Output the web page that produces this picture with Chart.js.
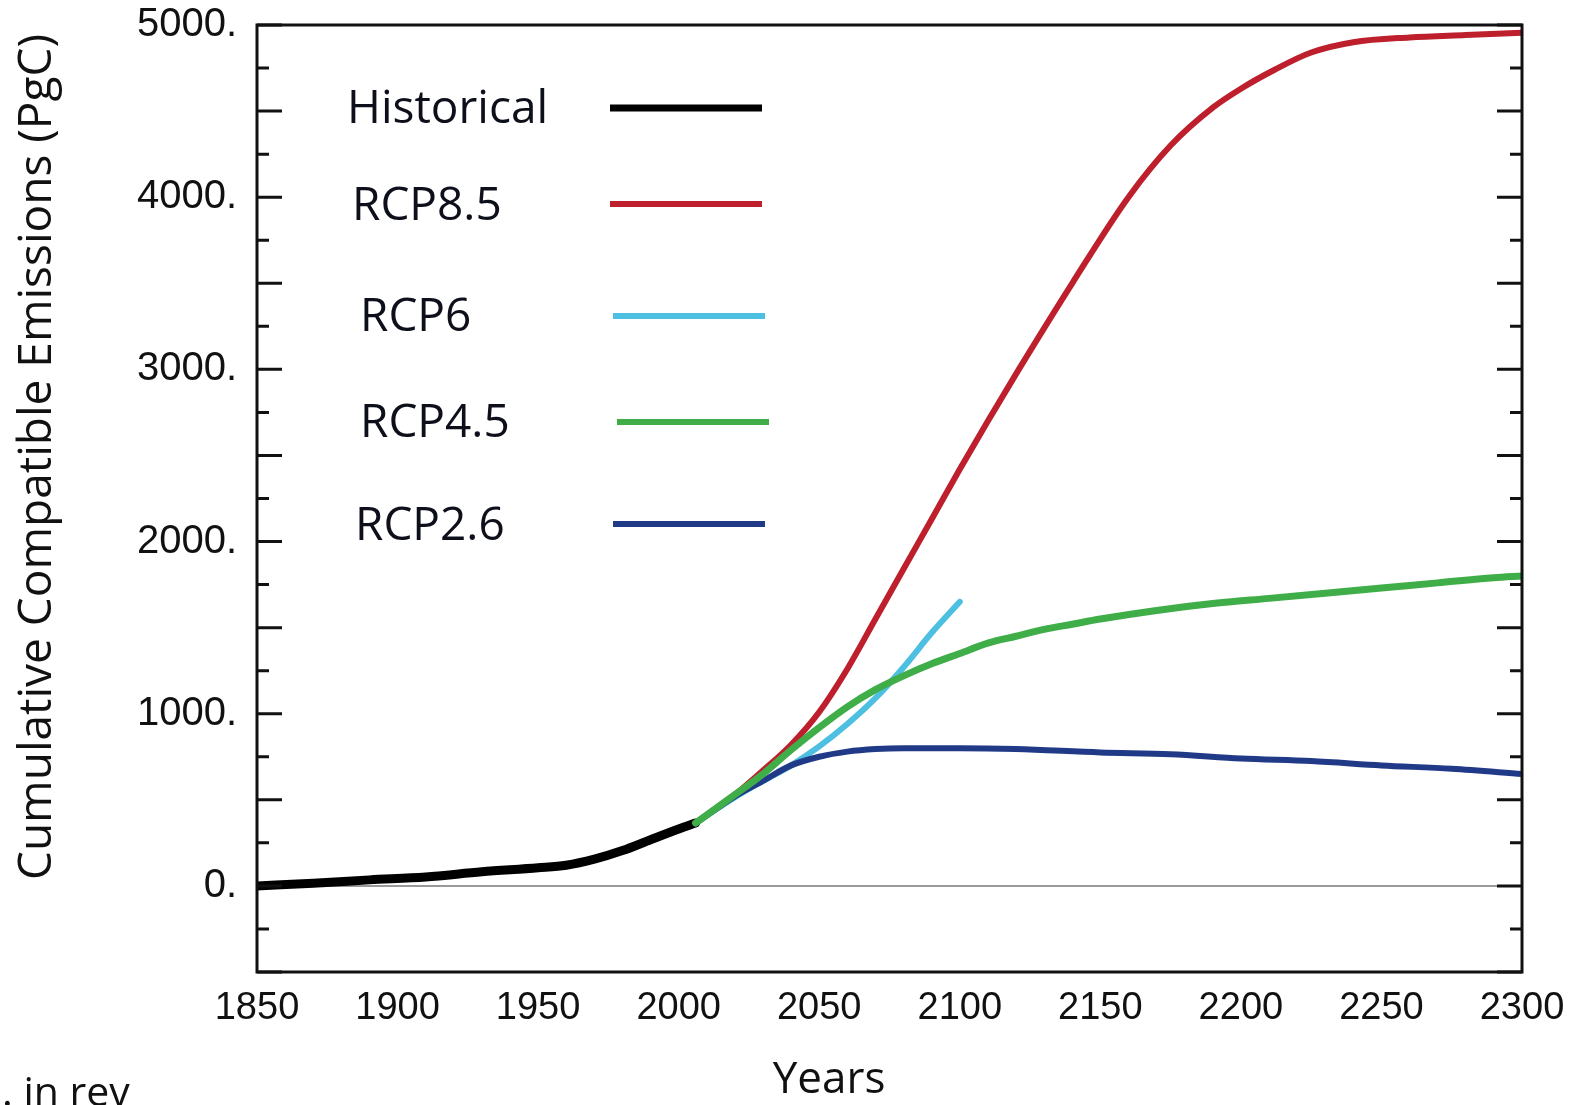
<!DOCTYPE html>
<html>
<head>
<meta charset="utf-8">
<script src="https://cdn.jsdelivr.net/npm/chart.js@4"></script>
<style>
  html, body { margin: 0; padding: 0; background: #fff; }
  #wrap { position: relative; width: 1582px; height: 1105px; overflow: hidden; }
  #note { position: absolute; left: 2px; top: 1062px; font: 41px "Open Sans", sans-serif; color: #111; }
</style>
</head>
<body>
<div id="wrap">
  <canvas id="lineChart" width="1582" height="1105"></canvas>
  <div id="note">. in rev</div>
</div>
<script>
// cumulative emissions (PgC)
const histYears  = [1850, 1870, 1890, 1910, 1930, 1950, 1960, 1970, 1980, 1990, 2000, 2006];
const histValues = [0, 15, 35, 52, 82, 105, 120, 155, 205, 268, 330, 365];

const rcp85Years  = [2006, 2020, 2030, 2040, 2050, 2060, 2070, 2080, 2090, 2100, 2110, 2121, 2140, 2160, 2175, 2190, 2200, 2212, 2225, 2240, 2260, 2280, 2300];
const rcp85Values = [365, 530, 670, 820, 1010, 1260, 1550, 1840, 2130, 2420, 2700, 3000, 3500, 4000, 4300, 4520, 4630, 4740, 4840, 4900, 4928, 4942, 4955];

const rcp6Years  = [2006, 2020, 2030, 2040, 2050, 2060, 2070, 2080, 2090, 2100];
const rcp6Values = [365, 515, 610, 700, 810, 940, 1090, 1270, 1470, 1650];

const rcp45Years  = [2006, 2020, 2030, 2040, 2050, 2060, 2070, 2080, 2090, 2100, 2110, 2120, 2130, 2140, 2150, 2170, 2190, 2210, 2230, 2250, 2270, 2290, 2300];
const rcp45Values = [365, 530, 650, 790, 920, 1040, 1140, 1220, 1290, 1350, 1410, 1450, 1490, 1520, 1550, 1600, 1640, 1670, 1700, 1730, 1760, 1790, 1800];

const rcp26Years  = [2006, 2020, 2030, 2040, 2050, 2060, 2070, 2080, 2100, 2120, 2150, 2175, 2200, 2225, 2250, 2275, 2300];
const rcp26Values = [365, 520, 610, 700, 750, 780, 795, 800, 800, 795, 775, 765, 740, 725, 700, 680, 650];

const xTicks = [1850, 1900, 1950, 2000, 2050, 2100, 2150, 2200, 2250, 2300];
const yTicks = [0, 1000, 2000, 3000, 4000, 5000];
const yMinorTicks = [-250, 250, 750, 1250, 1750, 2250, 2750, 3250, 3750, 4250, 4750];
const yMajorTicks = [-500, 0, 500, 1000, 1500, 2000, 2500, 3000, 3500, 4000, 4500, 5000];

const seriesNames  = ['Historical', 'RCP8.5', 'RCP6', 'RCP4.5', 'RCP2.6'];
const seriesColors = ['#000000', '#bd1f2d', '#4dbfe0', '#3fae48', '#213a87'];

const xTitle = 'Years';
const yTitle = 'Cumulative Compatible Emissions (PgC)';

function toPoints(xs, ys) {
  return xs.map((x, i) => ({ x: x, y: ys[i] }));
}

function dataset(idx, xs, ys, width, order) {
  return {
    label: seriesNames[idx],
    data: toPoints(xs, ys),
    borderColor: seriesColors[idx],
    borderWidth: width,
    pointRadius: 0,
    fill: false,
    cubicInterpolationMode: 'monotone',
    borderCapStyle: 'round',
    order: order
  };
}

// box, inward ticks, zero line, axis titles and legend
const framePlugin = {
  id: 'frame',
  beforeDatasetsDraw(chart) {
    const { ctx, chartArea: a, scales: { y } } = chart;
    ctx.save();
    ctx.strokeStyle = '#999';
    ctx.lineWidth = 2;
    ctx.beginPath();
    ctx.moveTo(a.left, y.getPixelForValue(0));
    ctx.lineTo(a.right, y.getPixelForValue(0));
    ctx.stroke();
    ctx.restore();
  },
  afterDatasetsDraw(chart) {
    const { ctx, chartArea: a, scales: { y } } = chart;
    ctx.save();
    ctx.strokeStyle = '#111';
    ctx.lineWidth = 3;
    ctx.strokeRect(a.left, a.top, a.right - a.left, a.bottom - a.top);
    ctx.beginPath();
    yMajorTicks.forEach(v => {
      const py = y.getPixelForValue(v);
      ctx.moveTo(a.left, py); ctx.lineTo(a.left + 25, py);
      ctx.moveTo(a.right, py); ctx.lineTo(a.right - 25, py);
    });
    yMinorTicks.forEach(v => {
      const py = y.getPixelForValue(v);
      ctx.moveTo(a.left, py); ctx.lineTo(a.left + 12, py);
      ctx.moveTo(a.right, py); ctx.lineTo(a.right - 12, py);
    });
    ctx.stroke();

    // axis titles (off-centre in the original)
    ctx.fillStyle = '#111';
    ctx.textAlign = 'center';
    ctx.textBaseline = 'middle';
    ctx.font = '44px "Open Sans", sans-serif';
    ctx.fillText(xTitle, 829, 1080);
    ctx.save();
    ctx.translate(38, 457);
    ctx.rotate(-Math.PI / 2);
    ctx.font = '46px "Open Sans", sans-serif';
    ctx.fillText(yTitle, 0, 0);
    ctx.restore();

    // legend: text on the left, line sample on the right
    const rows = [
      { tx: 347, ty: 110, lx: 610, ly: 108 },
      { tx: 352, ty: 207, lx: 610, ly: 204 },
      { tx: 360, ty: 318, lx: 613, ly: 316 },
      { tx: 360, ty: 424, lx: 617, ly: 422 },
      { tx: 355, ty: 527, lx: 613, ly: 524 }
    ];
    ctx.font = '46px "Open Sans", sans-serif';
    ctx.textAlign = 'left';
    rows.forEach((r, i) => {
      ctx.fillStyle = '#0d0f1a';
      ctx.fillText(seriesNames[i], r.tx, r.ty);
      ctx.strokeStyle = seriesColors[i];
      ctx.lineWidth = i === 0 ? 7 : 6;
      ctx.beginPath();
      ctx.moveTo(r.lx, r.ly);
      ctx.lineTo(r.lx + 152, r.ly);
      ctx.stroke();
    });
    ctx.restore();
  }
};

const ctx = document.getElementById('lineChart').getContext('2d');
new Chart(ctx, {
  type: 'line',
  data: {
    datasets: [
      dataset(0, histYears, histValues, 9, 5),
      dataset(1, rcp85Years, rcp85Values, 6, 4),
      dataset(2, rcp6Years, rcp6Values, 6, 3),
      dataset(4, rcp26Years, rcp26Values, 6, 2),
      dataset(3, rcp45Years, rcp45Values, 7, 1)
    ]
  },
  options: {
    responsive: false,
    animation: false,
    layout: { padding: { left: 0, right: 60, top: 25, bottom: 0 } },
    plugins: { legend: { display: false }, tooltip: { enabled: false } },
    scales: {
      x: {
        type: 'linear',
        min: 1850,
        max: 2300,
        afterBuildTicks: s => { s.ticks = xTicks.map(v => ({ value: v })); },
        afterFit: s => { s.height = 133; s.paddingLeft = 0; s.paddingRight = 0; },
        grid: { display: false, drawTicks: false },
        border: { display: false },
        ticks: {
          padding: 14,
          color: '#111',
          font: { family: '"Liberation Sans", Arial, sans-serif', size: 38 },
          callback: v => String(v),
          maxRotation: 0
        }
      },
      y: {
        type: 'linear',
        min: -500,
        max: 5000,
        afterBuildTicks: s => { s.ticks = yTicks.map(v => ({ value: v })); },
        afterFit: s => { s.width = 257; s.paddingTop = 0; s.paddingBottom = 0; },
        grid: { display: false, drawTicks: false },
        border: { display: false },
        ticks: {
          padding: 20,
          color: '#111',
          font: { family: '"Liberation Sans", Arial, sans-serif', size: 40 },
          callback: v => v + '.'
        }
      }
    }
  },
  plugins: [framePlugin]
});
</script>
</body>
</html>
